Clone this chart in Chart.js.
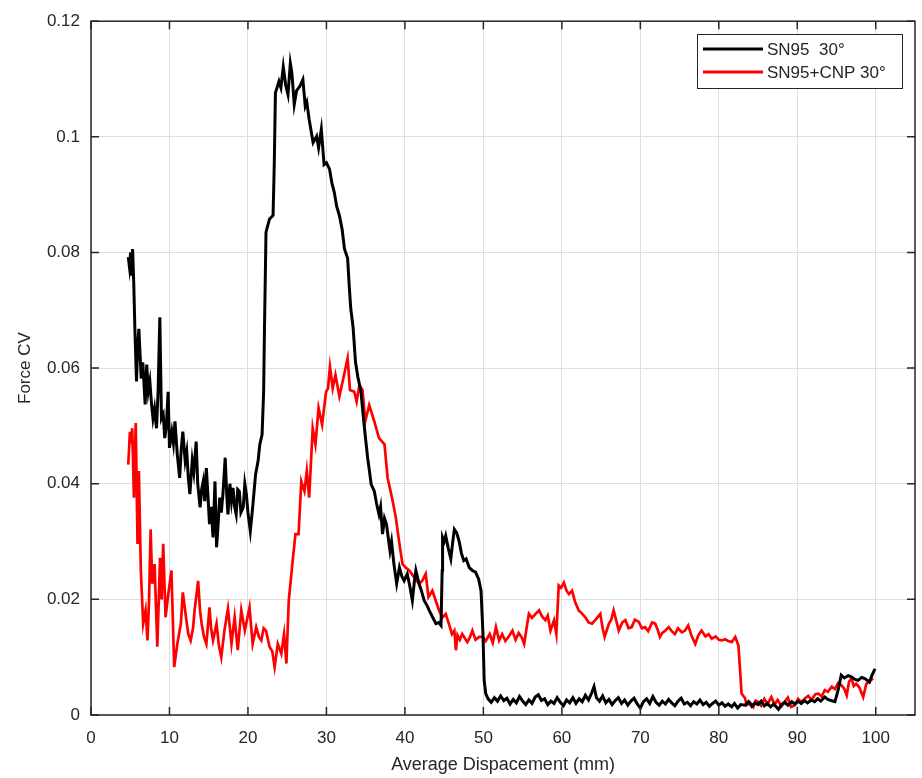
<!DOCTYPE html>
<html>
<head>
<meta charset="utf-8">
<script src="https://cdn.jsdelivr.net/npm/chart.js@4.4.1/dist/chart.umd.min.js"></script>
<style>
  html, body { margin: 0; padding: 0; background: #fff; }
</style>
</head>
<body>
<canvas id="cvChart" width="922" height="778"></canvas>
<script>
/* Force CV vs. average displacement, two specimens */

var xTicks = [0, 10, 20, 30, 40, 50, 60, 70, 80, 90, 100];
var yTicks = [0, 0.02, 0.04, 0.06, 0.08, 0.1, 0.12];
var seriesNames = ['SN95  30°', 'SN95+CNP 30°'];

// SN95 30°
var blackX = [
  4.75, 4.9, 5.05, 5.2, 5.3, 5.45, 5.6, 5.8, 5.95, 6.1, 6.4, 6.6, 6.9, 7.1, 7.3, 7.5, 7.7, 7.9, 8.1, 8.35,
  8.55, 8.77, 8.98, 9.2, 9.4, 9.6, 9.83, 10.0, 10.3, 10.5, 10.7, 11.0, 11.3, 11.5, 11.7, 12.0, 12.2, 12.4, 12.6, 12.9,
  13.1, 13.4, 13.6, 13.9, 14.1, 14.3, 14.5, 14.7, 14.9, 15.1, 15.3, 15.55, 15.8, 16.0, 16.2, 16.4, 16.6, 16.8, 17.1, 17.3,
  17.45, 17.7, 17.9, 18.1, 18.3, 18.5, 18.7, 18.9, 19.1, 19.4, 19.6, 19.8, 20.0, 20.3, 20.6, 20.97, 21.3, 21.5, 21.8, 22.0,
  22.1, 22.3, 22.75, 23.2, 23.35, 23.5, 23.95, 24.2, 24.5, 24.8, 25.1, 25.4, 25.6, 25.9, 26.2, 26.6, 27.0, 27.3, 27.5, 27.8,
  28.05, 28.3, 28.75, 29.0, 29.35, 29.7, 30.0, 30.4, 30.7, 31.0, 31.3, 31.65, 32.0, 32.3, 32.7, 32.9, 33.1, 33.4, 33.7, 34.0,
  34.4, 34.8, 35.25, 35.5, 35.7, 36.1, 36.4, 36.7, 36.9, 37.15, 37.4, 37.65, 38.1, 38.3, 38.6, 38.95, 39.3, 39.6, 39.9, 40.3,
  40.6, 40.95, 41.2, 41.4, 41.8, 42.1, 42.45, 42.8, 43.1, 43.5, 43.95, 44.3, 44.6, 44.75, 44.8, 45.0, 45.2, 45.5, 45.85, 46.1,
  46.3, 46.6, 46.9, 47.2, 47.5, 47.8, 48.2, 48.6, 49.0, 49.4, 49.7, 49.95, 50.1, 50.3, 50.6, 51.0, 51.4, 51.8, 52.2, 52.6,
  53.0, 53.4, 53.8, 54.2, 54.6, 55.0, 55.4, 55.8, 56.2, 56.6, 57.0, 57.4, 57.8, 58.2, 58.6, 59.0, 59.4, 59.8, 60.2, 60.6,
  61.0, 61.4, 61.8, 62.2, 62.6, 63.0, 63.4, 63.8, 64.1, 64.4, 64.8, 65.2, 65.6, 66.0, 66.4, 66.8, 67.2, 67.6, 68.0, 68.4,
  68.8, 69.2, 69.6, 70.0, 70.4, 70.8, 71.2, 71.6, 72.0, 72.4, 72.8, 73.2, 73.6, 74.0, 74.4, 74.8, 75.2, 75.6, 76.0, 76.4,
  76.8, 77.2, 77.6, 78.0, 78.4, 78.8, 79.2, 79.6, 80.0, 80.4, 80.8, 81.2, 81.65, 82.0, 82.4, 82.8, 83.35, 83.8, 84.2, 84.6,
  85.0, 85.4, 85.8, 86.2, 86.6, 87.0, 87.6, 88.0, 88.4, 88.8, 89.3, 89.7, 90.1, 90.5, 90.9, 91.3, 91.8, 92.2, 92.6, 93.0,
  93.5, 93.9, 94.3, 94.8, 95.2, 95.6, 96.0, 96.5, 96.9, 97.3, 97.75, 98.2, 98.6, 99.2, 99.5, 99.9
];
var blackY = [
  0.0792, 0.0775, 0.0800, 0.0760, 0.0806, 0.0746, 0.0663, 0.0577, 0.0640, 0.0668, 0.0582, 0.0610, 0.0537, 0.0606, 0.0560, 0.0577, 0.0540, 0.0513, 0.0530, 0.0496,
  0.0560, 0.0688, 0.0513, 0.0520, 0.0479, 0.0500, 0.0559, 0.0462, 0.0490, 0.0470, 0.0508, 0.0450, 0.0410, 0.0460, 0.0490, 0.0440, 0.0456, 0.0410, 0.0382, 0.0440,
  0.0420, 0.0473, 0.0400, 0.0359, 0.0390, 0.0404, 0.0370, 0.0427, 0.0380, 0.0330, 0.0360, 0.0307, 0.0404, 0.0290, 0.0330, 0.0376, 0.0350, 0.0380, 0.0445, 0.0380,
  0.0347, 0.0400, 0.0370, 0.0393, 0.0360, 0.0347, 0.0390, 0.0387, 0.0350, 0.0359, 0.0400, 0.0382, 0.0350, 0.0318, 0.0359, 0.0416, 0.0440, 0.0467, 0.0485, 0.0560,
  0.0663, 0.0835, 0.0858, 0.0864, 0.0950, 0.1076, 0.1096, 0.1085, 0.1121, 0.1090, 0.1073, 0.1127, 0.1110, 0.1056, 0.1080, 0.1087, 0.1099, 0.1053, 0.1060, 0.1030,
  0.1010, 0.0990, 0.1001, 0.0981, 0.1013, 0.0952, 0.0955, 0.0944, 0.0920, 0.0904, 0.0880, 0.0864, 0.0840, 0.0806, 0.0790, 0.0743, 0.0703, 0.0670, 0.0611, 0.0585,
  0.0559, 0.0502, 0.0445, 0.0420, 0.0399, 0.0387, 0.0365, 0.0347, 0.0360, 0.0313, 0.0340, 0.0330, 0.0284, 0.0300, 0.0261, 0.0227, 0.0255, 0.0240, 0.0232, 0.0244,
  0.0225, 0.0198, 0.0230, 0.0250, 0.0227, 0.0215, 0.0198, 0.0190, 0.0181, 0.0170, 0.0158, 0.0160, 0.0155, 0.0250, 0.0307, 0.0300, 0.0310, 0.0290, 0.0270, 0.0300,
  0.0321, 0.0315, 0.0301, 0.0280, 0.0267, 0.0270, 0.0255, 0.0250, 0.0247, 0.0235, 0.0215, 0.0140, 0.0060, 0.0037, 0.0028, 0.0022, 0.0030, 0.0024, 0.0033, 0.0025,
  0.0029, 0.0019, 0.0027, 0.0021, 0.0032, 0.0024, 0.0018, 0.0026, 0.0020, 0.0031, 0.0035, 0.0025, 0.0028, 0.0018, 0.0024, 0.0020, 0.0030, 0.0022, 0.0016, 0.0026,
  0.0021, 0.0030, 0.0020, 0.0028, 0.0023, 0.0034, 0.0026, 0.0038, 0.0049, 0.0030, 0.0024, 0.0033, 0.0021, 0.0027, 0.0018, 0.0025, 0.0030, 0.0020, 0.0026, 0.0017,
  0.0024, 0.0029, 0.0019, 0.0012, 0.0023, 0.0028, 0.0020, 0.0032, 0.0022, 0.0017, 0.0024, 0.0019, 0.0027, 0.0021, 0.0016, 0.0024, 0.0029, 0.0019, 0.0022, 0.0016,
  0.0023, 0.0019, 0.0026, 0.0018, 0.0022, 0.0015, 0.0020, 0.0024, 0.0017, 0.0021, 0.0015, 0.0019, 0.0014, 0.0020, 0.0012, 0.0018, 0.0017, 0.0023, 0.0015, 0.0021,
  0.0018, 0.0024, 0.0016, 0.0020, 0.0014, 0.0019, 0.0010, 0.0018, 0.0022, 0.0017, 0.0023, 0.0019, 0.0024, 0.0020, 0.0025, 0.0021, 0.0026, 0.0023, 0.0028, 0.0024,
  0.0031, 0.0027, 0.0025, 0.0023, 0.0043, 0.0069, 0.0064, 0.0068, 0.0066, 0.0062, 0.0060, 0.0065, 0.0063, 0.0057, 0.0068, 0.0080
];

// SN95+CNP 30°
var redX = [
  4.75, 4.96, 5.1, 5.25, 5.47, 5.7, 5.93, 6.1, 6.35, 6.65, 6.95, 7.2, 7.4, 7.6, 7.8, 8.1, 8.45, 8.8, 9.0, 9.2,
  9.5, 9.8, 10.25, 10.6, 11.0, 11.45, 11.7, 12.15, 12.4, 12.7, 13.0, 13.2, 13.65, 13.9, 14.1, 14.4, 14.7, 15.1, 15.3, 15.55,
  16.0, 16.3, 16.6, 17.0, 17.45, 17.9, 18.3, 18.7, 19.15, 19.6, 20.2, 20.6, 21.05, 21.4, 21.7, 22.0, 22.3, 22.75, 23.1, 23.4,
  23.8, 24.25, 24.6, 24.9, 25.2, 25.7, 26.05, 26.45, 26.8, 27.2, 27.5, 27.8, 28.25, 28.6, 29.0, 29.45, 29.95, 30.2, 30.45, 30.8,
  31.15, 31.4, 31.65, 32.15, 32.7, 33.0, 33.55, 33.85, 34.2, 34.6, 34.95, 35.45, 36.1, 36.7, 37.4, 37.8, 38.35, 38.85, 39.3, 39.7,
  40.1, 40.55, 41.2, 41.8, 42.2, 42.65, 43.0, 43.5, 44.0, 44.35, 44.8, 45.2, 45.6, 46.0, 46.3, 46.5, 46.7, 47.0, 47.3, 47.95,
  48.3, 48.6, 49.0, 49.45, 49.9, 50.3, 50.8, 51.2, 51.6, 52.0, 52.4, 52.8, 53.2, 53.7, 54.1, 54.5, 54.9, 55.2, 55.5, 55.8,
  56.2, 56.65, 57.1, 57.5, 57.9, 58.2, 58.55, 59.0, 59.3, 59.6, 59.9, 60.25, 60.6, 60.9, 61.3, 61.7, 62.15, 62.6, 63.0, 63.4,
  63.85, 64.3, 64.9, 65.2, 65.45, 66.0, 66.3, 66.6, 66.9, 67.25, 67.7, 68.1, 68.5, 68.9, 69.3, 69.8, 70.2, 70.6, 71.0, 71.5,
  71.9, 72.2, 72.5, 72.8, 73.2, 73.6, 74.0, 74.4, 74.8, 75.3, 75.7, 76.1, 76.5, 77.0, 77.4, 77.8, 78.3, 78.7, 79.1, 79.6,
  80.0, 80.4, 80.8, 81.2, 81.65, 82.1, 82.5, 82.7, 82.9, 83.35, 83.55, 84.0, 84.4, 84.7, 85.0, 85.4, 85.8, 86.2, 86.7, 87.1,
  87.5, 88.0, 88.4, 88.8, 89.2, 89.7, 90.1, 90.5, 91.0, 91.4, 91.8, 92.3, 92.7, 93.1, 93.5, 93.9, 94.4, 94.8, 95.2, 95.6,
  96.0, 96.3, 96.6, 96.9, 97.2, 97.5, 97.9, 98.4, 98.8, 99.2, 99.65
];
var redY = [
  0.0433, 0.0490, 0.0470, 0.0496, 0.0376, 0.0505, 0.0296, 0.0422, 0.0250, 0.0158, 0.0181, 0.0129, 0.0200, 0.0321, 0.0227, 0.0261, 0.0118, 0.0272, 0.0200, 0.0296,
  0.0169, 0.0204, 0.0250, 0.0083, 0.0123, 0.0158, 0.0212, 0.0164, 0.0140, 0.0129, 0.0150, 0.0181, 0.0232, 0.0180, 0.0158, 0.0135, 0.0123, 0.0186, 0.0150, 0.0129,
  0.0158, 0.0120, 0.0100, 0.0146, 0.0184, 0.0123, 0.0169, 0.0112, 0.0181, 0.0146, 0.0186, 0.0123, 0.0152, 0.0135, 0.0129, 0.0150, 0.0146, 0.0118, 0.0110, 0.0083,
  0.0123, 0.0106, 0.0140, 0.0089, 0.0198, 0.0267, 0.0313, 0.0313, 0.0404, 0.0387, 0.0422, 0.0376, 0.0496, 0.0468, 0.0531, 0.0502, 0.0559, 0.0565, 0.0602, 0.0565,
  0.0588, 0.0570, 0.0551, 0.0582, 0.0617, 0.0562, 0.0559, 0.0542, 0.0571, 0.0562, 0.0508, 0.0536, 0.0508, 0.0479, 0.0468, 0.0410, 0.0376, 0.0341, 0.0296, 0.0261,
  0.0255, 0.0250, 0.0238, 0.0227, 0.0232, 0.0244, 0.0204, 0.0215, 0.0195, 0.0181, 0.0169, 0.0175, 0.0158, 0.0140, 0.0146, 0.0112, 0.0138, 0.0130, 0.0140, 0.0126,
  0.0135, 0.0146, 0.0130, 0.0135, 0.0135, 0.0128, 0.0140, 0.0125, 0.0152, 0.0129, 0.0140, 0.0128, 0.0135, 0.0146, 0.0130, 0.0142, 0.0134, 0.0123, 0.0150, 0.0175,
  0.0168, 0.0175, 0.0181, 0.0170, 0.0164, 0.0172, 0.0146, 0.0164, 0.0140, 0.0224, 0.0220, 0.0229, 0.0215, 0.0209, 0.0215, 0.0195, 0.0181, 0.0175, 0.0169, 0.0160,
  0.0158, 0.0165, 0.0175, 0.0150, 0.0135, 0.0158, 0.0165, 0.0181, 0.0165, 0.0146, 0.0160, 0.0164, 0.0150, 0.0152, 0.0165, 0.0161, 0.0150, 0.0152, 0.0145, 0.0160,
  0.0158, 0.0148, 0.0135, 0.0142, 0.0146, 0.0152, 0.0145, 0.0140, 0.0150, 0.0143, 0.0146, 0.0155, 0.0138, 0.0123, 0.0138, 0.0146, 0.0136, 0.0140, 0.0132, 0.0136,
  0.0130, 0.0129, 0.0131, 0.0128, 0.0126, 0.0135, 0.0120, 0.0080, 0.0037, 0.0029, 0.0017, 0.0021, 0.0014, 0.0025, 0.0023, 0.0016, 0.0028, 0.0019, 0.0031, 0.0018,
  0.0026, 0.0015, 0.0023, 0.0030, 0.0014, 0.0017, 0.0028, 0.0022, 0.0029, 0.0033, 0.0026, 0.0036, 0.0037, 0.0032, 0.0043, 0.0040, 0.0049, 0.0045, 0.0055, 0.0052,
  0.0045, 0.0034, 0.0058, 0.0063, 0.0050, 0.0054, 0.0048, 0.0031, 0.0054, 0.0058, 0.0063
];

var FONT = "'Liberation Sans', Arial, sans-serif";
var INK = '#262626';

function toPoints(xs, ys) {
  return xs.map(function (x, i) { return { x: x, y: ys[i] }; });
}

/* box, inward tick marks and the legend, drawn MATLAB-style */
var frameTicks = {
  id: 'frameTicks',
  afterDraw: function (chart) {
    var ctx = chart.ctx, a = chart.chartArea;
    var xs = chart.scales.x, ys = chart.scales.y;
    var tl = 8;
    ctx.save();
    ctx.strokeStyle = INK;
    ctx.lineWidth = 1.5;
    ctx.strokeRect(a.left, a.top, a.right - a.left, a.bottom - a.top);
    ctx.beginPath();
    xTicks.forEach(function (v) {
      var px = xs.getPixelForValue(v);
      ctx.moveTo(px, a.bottom); ctx.lineTo(px, a.bottom - tl);
      ctx.moveTo(px, a.top); ctx.lineTo(px, a.top + tl);
    });
    yTicks.forEach(function (v) {
      var py = ys.getPixelForValue(v);
      ctx.moveTo(a.left, py); ctx.lineTo(a.left + tl, py);
      ctx.moveTo(a.right, py); ctx.lineTo(a.right - tl, py);
    });
    ctx.stroke();

    // legend
    var lx = 697, ly = 34, lw = 205, lh = 54;
    ctx.fillStyle = '#fff';
    ctx.fillRect(lx, ly, lw, lh);
    ctx.lineWidth = 1;
    ctx.strokeStyle = INK;
    ctx.strokeRect(lx + 0.5, ly + 0.5, lw, lh);
    ctx.font = '17px ' + FONT;
    ctx.textBaseline = 'middle';
    chart.data.datasets.forEach(function (ds, i) {
      var y = ly + 15 + i * 23;
      ctx.strokeStyle = ds.borderColor;
      ctx.lineWidth = 2.8;
      ctx.beginPath();
      ctx.moveTo(lx + 6, y); ctx.lineTo(lx + 66, y);
      ctx.stroke();
      ctx.fillStyle = INK;
      ctx.fillText(ds.label, lx + 70, y + 1);
    });
    ctx.restore();
  }
};

new Chart(document.getElementById('cvChart'), {
  type: 'line',
  data: {
    datasets: [
      {
        label: seriesNames[0],
        data: toPoints(blackX, blackY),
        borderColor: '#000000',
        borderWidth: 3,
        pointRadius: 0,
        tension: 0
      },
      {
        label: seriesNames[1],
        data: toPoints(redX, redY),
        borderColor: '#ff0000',
        borderWidth: 2.7,
        pointRadius: 0,
        tension: 0
      }
    ]
  },
  options: {
    responsive: false,
    animation: false,
    layout: { padding: { top: 18, right: 7, left: 0, bottom: 0 } },
    plugins: {
      legend: { display: false },
      tooltip: { enabled: false }
    },
    scales: {
      x: {
        type: 'linear',
        min: 0, max: 105,
        afterFit: function (s) { s.height = 63; },
        afterBuildTicks: function (s) { s.ticks = xTicks.map(function (v) { return { value: v }; }); },
        grid: { color: '#dedede', lineWidth: 1, drawTicks: false },
        border: { display: false },
        ticks: { color: INK, font: { family: FONT, size: 17 }, padding: 13, maxRotation: 0 },
        title: { display: true, text: 'Average Dispacement (mm)', color: INK, font: { family: FONT, size: 18 }, padding: { top: 0, bottom: 2 } }
      },
      y: {
        type: 'linear',
        min: 0, max: 0.12,
        afterFit: function (s) { s.width = 91; },
        afterBuildTicks: function (s) { s.ticks = yTicks.map(function (v) { return { value: v }; }); },
        grid: { color: '#dedede', lineWidth: 1, drawTicks: false },
        border: { display: false },
        ticks: {
          color: INK, font: { family: FONT, size: 17 }, padding: 11,
          callback: function (v) { return String(+v.toFixed(2)); }
        },
        title: { display: true, text: 'Force CV', color: INK, font: { family: FONT, size: 17 }, padding: { top: 15, bottom: 0 } }
      }
    }
  },
  plugins: [frameTicks]
});
</script>
</body>
</html>
